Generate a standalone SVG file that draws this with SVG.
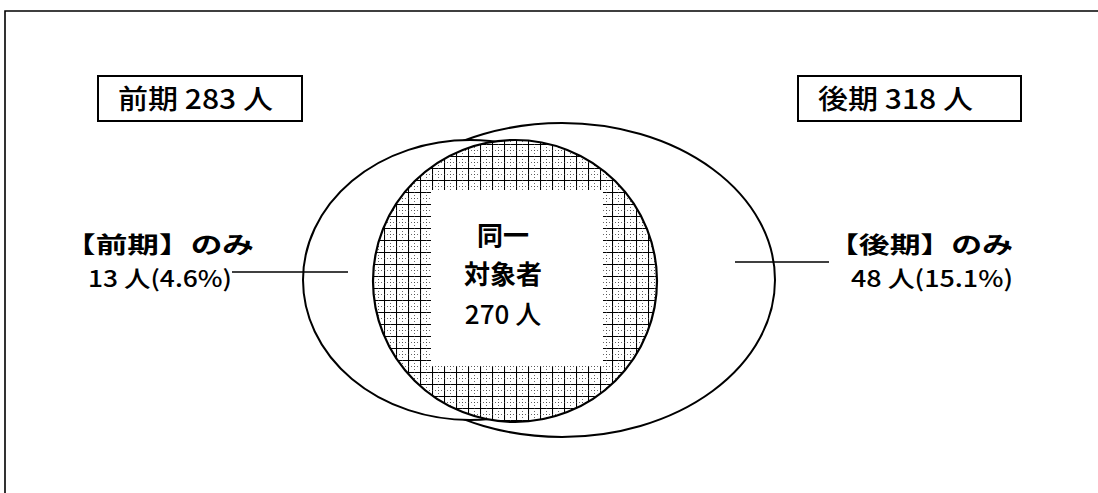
<svg xmlns="http://www.w3.org/2000/svg" width="1098" height="493" viewBox="0 0 1098 493">
<style>
.t{font-family:"Noto Sans CJK JP","Noto Sans CJK SC",sans-serif;fill:#000;font-weight:500}
.b{font-weight:700}
.box{fill:#fff;stroke:#000;stroke-width:2}
.ell{fill:#fff;stroke:#000;stroke-width:2}
.ln{stroke:#000;stroke-width:1.6;fill:none}
</style>
<defs>
<pattern id="grid" width="12" height="12" patternUnits="userSpaceOnUse" x="0" y="0">
<rect width="12" height="12" fill="#fff"/>
<path d="M0 0.5H12M0.5 0V12" stroke="#000" stroke-width="1.1"/>
<path d="M0 6.5H12M6.5 0V12" stroke="#444" stroke-width="0.8" stroke-dasharray="1 2"/>
</pattern>
</defs>
<rect width="1098" height="493" fill="#fff"/>
<g id="frame">
<path d="M5 493V11H1098" class="ln" stroke-width="2.5"/>
</g>
<g id="venn">
<ellipse id="later" class="ell" cx="562" cy="280" rx="213" ry="157"/>
<ellipse id="earlier" class="ell" cx="470" cy="280" rx="167" ry="140"/>
<ellipse id="common" cx="515" cy="281" rx="142" ry="141" fill="url(#grid)" stroke="#000" stroke-width="2.2"/>
<rect x="431" y="190" width="172" height="176" fill="#fff"/>
</g>
<g id="connectors">
<line class="ln" x1="232" y1="272" x2="348" y2="272"/>
<line class="ln" x1="735" y1="262" x2="829" y2="262"/>
</g>
<g id="box-earlier">
<rect class="box" x="98" y="76" width="204" height="45"/>
<text class="t" x="118" y="109" font-size="27" textLength="155" lengthAdjust="spacingAndGlyphs">前期 283 人</text>
</g>
<g id="box-later">
<rect class="box" x="798" y="76" width="223" height="45"/>
<text class="t" x="818" y="109" font-size="27" textLength="155" lengthAdjust="spacingAndGlyphs">後期 318 人</text>
</g>
<g id="label-earlier">
<text class="t b" x="64" y="253" font-size="23" textLength="190" lengthAdjust="spacingAndGlyphs">【前期】のみ</text>
<text class="t" x="88" y="287" font-size="23" textLength="144" lengthAdjust="spacingAndGlyphs">13 人(4.6%)</text>
</g>
<g id="label-later">
<text class="t b" x="828" y="253" font-size="23" textLength="185" lengthAdjust="spacingAndGlyphs">【後期】のみ</text>
<text class="t" x="851" y="287" font-size="23" textLength="162" lengthAdjust="spacingAndGlyphs">48 人(15.1%)</text>
</g>
<g id="label-common">
<text class="t b" x="503" y="245" font-size="26" text-anchor="middle">同一</text>
<text class="t b" x="503" y="284" font-size="26" text-anchor="middle">対象者</text>
<text class="t" x="503" y="324" font-size="26" text-anchor="middle">270 人</text>
</g>
</svg>
